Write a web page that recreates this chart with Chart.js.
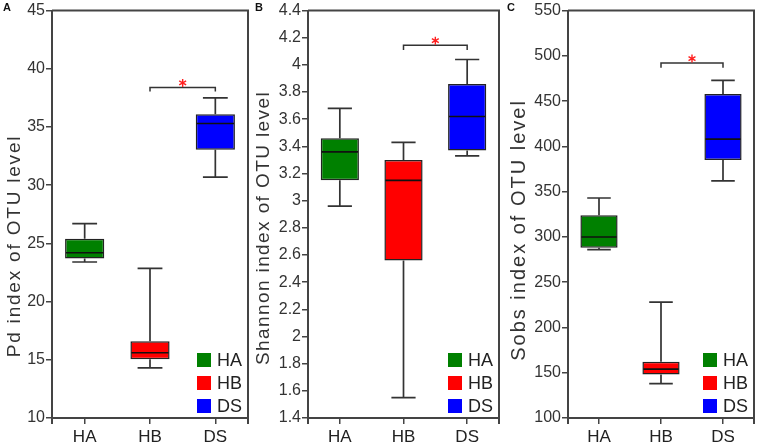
<!DOCTYPE html>
<html>
<head>
<meta charset="utf-8">
<script src="https://cdn.jsdelivr.net/npm/chart.js@4.4.1/dist/chart.umd.min.js"></script>
<style>
  body { margin: 0; background: #fff; }
  #wrap { position: relative; width: 758px; height: 445px; }
  .panel { position: absolute; top: 0; height: 445px; }
</style>
</head>
<body>
<div id="wrap">
  <div class="panel" style="left:0;width:250px"><canvas id="chartA"></canvas></div>
  <div class="panel" style="left:252px;width:250px"><canvas id="chartB"></canvas></div>
  <div class="panel" style="left:504px;width:254px"><canvas id="chartC"></canvas></div>
</div>
<script>
var groups = ["HA", "HB", "DS"];
var groupColors = ["#008000", "#ff0000", "#0000ff"];

// A - Pd index
var pdTicks = [10, 15, 20, 25, 30, 35, 40, 45];
var pdMin = [23.4, 14.3, 30.7];
var pdQ1 = [23.7, 15.05, 33.05];
var pdMed = [24.2, 15.6, 35.3];
var pdQ3 = [25.4, 16.6, 36.1];
var pdMax = [26.7, 22.85, 37.5];
var pdSig = [38.4, 38.05];

// B - Shannon index
var shTicks = [1.4, 1.6, 1.8, 2, 2.2, 2.4, 2.6, 2.8, 3, 3.2, 3.4, 3.6, 3.8, 4, 4.2, 4.4];
var shMin = [2.96, 1.55, 3.33];
var shQ1 = [3.15, 2.56, 3.37];
var shMed = [3.36, 3.15, 3.62];
var shQ3 = [3.46, 3.30, 3.86];
var shMax = [3.68, 3.43, 4.04];
var shSig = [4.145, 4.11];

// C - Sobs index
var sobsTicks = [100, 150, 200, 250, 300, 350, 400, 450, 500, 550];
var sobsMin = [286, 138, 362];
var sobsQ1 = [288, 148, 385];
var sobsMed = [300, 154, 408];
var sobsQ3 = [324, 162, 458];
var sobsMax = [343, 228, 473];
var sobsSig = [492, 487];

var FONT = "'Liberation Sans', Arial, Helvetica, sans-serif";
var AXIS = "#444";

function boxParts(p) {
    return {
        id: "boxParts" + p.letter,
        afterDatasetsDraw: function (chart) {
            var ctx = chart.ctx, x = chart.scales.x, y = chart.scales.y, area = chart.chartArea;
            var step = x.getPixelForValue(1) - x.getPixelForValue(0);
            var boxW = step * 0.6, capW = step * 0.38;
            ctx.save();
            ctx.lineCap = "butt";
            // whiskers
            ctx.strokeStyle = "#333";
            ctx.lineWidth = 1.7;
            groups.forEach(function (g, i) {
                var cx = x.getPixelForValue(i);
                var lo = y.getPixelForValue(p.min[i]), hi = y.getPixelForValue(p.max[i]);
                var bar = chart.getDatasetMeta(0).data[i];
                ctx.beginPath();
                ctx.moveTo(cx, hi); ctx.lineTo(cx, bar.y);
                ctx.moveTo(cx, bar.base); ctx.lineTo(cx, lo);
                ctx.moveTo(cx - capW / 2, hi); ctx.lineTo(cx + capW / 2, hi);
                ctx.moveTo(cx - capW / 2, lo); ctx.lineTo(cx + capW / 2, lo);
                ctx.stroke();
            });
            // medians
            ctx.strokeStyle = "#111";
            ctx.lineWidth = 1.6;
            groups.forEach(function (g, i) {
                var cx = x.getPixelForValue(i), my = y.getPixelForValue(p.med[i]);
                ctx.beginPath();
                ctx.moveTo(cx - boxW / 2 + 1, my); ctx.lineTo(cx + boxW / 2 - 1, my);
                ctx.stroke();
            });
            // significance bracket HB - DS
            var x1 = x.getPixelForValue(1), x2 = x.getPixelForValue(2);
            var by = y.getPixelForValue(p.sig[0]), be = y.getPixelForValue(p.sig[1]);
            ctx.strokeStyle = "#333";
            ctx.lineWidth = 1.5;
            ctx.beginPath();
            ctx.moveTo(x1, be); ctx.lineTo(x1, by); ctx.lineTo(x2, by); ctx.lineTo(x2, be);
            ctx.stroke();
            var sx = (x1 + x2) / 2, sy = by - 4.5;
            ctx.strokeStyle = "#ff2020";
            ctx.lineWidth = 1.4;
            ctx.beginPath();
            for (var k = 0; k < 3; k++) {
                var a = Math.PI / 2 + k * Math.PI / 3;
                ctx.moveTo(sx - 4 * Math.cos(a), sy - 4 * Math.sin(a));
                ctx.lineTo(sx + 4 * Math.cos(a), sy + 4 * Math.sin(a));
            }
            ctx.stroke();
            // frame: top and right
            ctx.strokeStyle = AXIS;
            ctx.lineWidth = 2;
            ctx.beginPath();
            ctx.moveTo(area.left, area.top); ctx.lineTo(area.right, area.top);
            ctx.lineTo(area.right, area.bottom + 6);
            ctx.moveTo(area.left, area.bottom); ctx.lineTo(area.left, area.bottom + 6);
            ctx.stroke();
            // legend
            ctx.font = "18px " + FONT;
            ctx.textBaseline = "middle";
            ctx.textAlign = "left";
            groups.forEach(function (g, i) {
                var cy = area.bottom - 58 + i * 23;
                ctx.fillStyle = groupColors[i];
                ctx.fillRect(area.right - 51, cy - 7, 14, 14);
                ctx.fillStyle = "#222";
                ctx.fillText(g, area.right - 31, cy + 1);
            });
            // y axis title
            ctx.save();
            ctx.translate(p.titleX, p.titleY);
            ctx.rotate(-Math.PI / 2);
            ctx.font = p.titleSize + "px " + FONT;
            ctx.letterSpacing = p.titleSpacing + "px";
            ctx.textAlign = "center";
            ctx.textBaseline = "alphabetic";
            ctx.fillStyle = "#333";
            ctx.fillText(p.title, 0, 0);
            ctx.restore();
            // panel letter
            ctx.font = "bold 11px " + FONT;
            ctx.textBaseline = "top";
            ctx.fillStyle = "#111";
            ctx.fillText(p.letter, 3, 2);
            ctx.restore();
        }
    };
}

function makeChart(id, p) {
    new Chart(document.getElementById(id), {
        type: "bar",
        data: {
            labels: groups,
            datasets: [{
                data: groups.map(function (g, i) { return [p.q1[i], p.q3[i]]; }),
                backgroundColor: groupColors,
                borderColor: "#222",
                borderWidth: 1.5,
                borderSkipped: false,
                barPercentage: 0.6,
                categoryPercentage: 1
            }]
        },
        options: {
            responsive: true,
            maintainAspectRatio: false,
            animation: false,
            layout: {padding: {top: 8, right: p.rightPad, left: 0, bottom: 0}},
            plugins: {legend: {display: false}, tooltip: {enabled: false}},
            scales: {
                x: {
                    offset: true,
                    afterFit: function (s) { s.height = 27; },
                    border: {color: AXIS, width: 2},
                    grid: {offset: false, drawOnChartArea: false, tickLength: 6, color: AXIS, lineWidth: 1.5},
                    ticks: {color: "#222", font: {family: FONT, size: 17}, padding: 3}
                },
                y: {
                    min: p.ticks[0],
                    max: p.ticks[p.ticks.length - 1],
                    afterBuildTicks: function (s) { s.ticks = p.ticks.map(function (v) { return {value: v}; }); },
                    afterFit: function (s) { s.width = p.yWidth; },
                    border: {color: AXIS, width: 2},
                    grid: {drawOnChartArea: false, tickLength: 6, color: AXIS, lineWidth: 1.5},
                    ticks: {
                        color: "#333", font: {family: FONT, size: 16}, padding: 1,
                        callback: function (v) { return String(+v.toFixed(2)); }
                    }
                }
            }
        },
        plugins: [boxParts(p)]
    });
}

makeChart("chartA", {letter: "A", title: "Pd index of OTU level", ticks: pdTicks,
    q1: pdQ1, q3: pdQ3, min: pdMin, med: pdMed, max: pdMax, sig: pdSig,
    yWidth: 52, rightPad: 2, titleX: 20, titleY: 246, titleSize: 19, titleSpacing: 1.8});
makeChart("chartB", {letter: "B", title: "Shannon index of OTU level", ticks: shTicks,
    q1: shQ1, q3: shQ3, min: shMin, med: shMed, max: shMax, sig: shSig,
    yWidth: 56, rightPad: 3, titleX: 17, titleY: 228, titleSize: 19, titleSpacing: 1.4});
makeChart("chartC", {letter: "C", title: "Sobs index of OTU level", ticks: sobsTicks,
    q1: sobsQ1, q3: sobsQ3, min: sobsMin, med: sobsMed, max: sobsMax, sig: sobsSig,
    yWidth: 64, rightPad: 4, titleX: 21, titleY: 230, titleSize: 20, titleSpacing: 2});
</script>
</body>
</html>
